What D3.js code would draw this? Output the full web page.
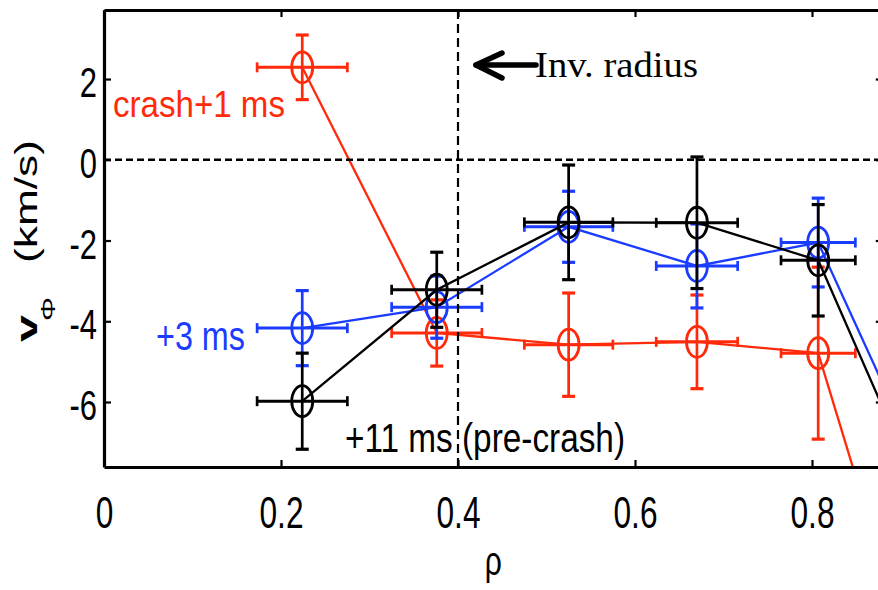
<!DOCTYPE html>
<html>
<head>
<meta charset="utf-8">
<script src="https://cdn.jsdelivr.net/npm/d3@7"></script>
<style>
  html, body { margin: 0; padding: 0; background: #fff; }
  svg { display: block; }
</style>
</head>
<body>
<svg id="chart" width="878" height="590"></svg>
<script>
// Toroidal rotation profiles v_phi(rho) around the sawtooth crash
const rho       = [0.224, 0.376, 0.525, 0.670, 0.807, 0.95];
const rhoErr    = [0.051, 0.051, 0.050, 0.046, 0.042, 0.05];

const vCrash1    = [2.29, -4.29, -4.58, -4.51, -4.79, -15.1];   // crash + 1 ms
const vCrash1Err = [0.80, 0.82, 1.28, 1.16, 2.13, 2.0];
const vCrash3    = [-4.17, -3.65, -1.66, -2.63, -2.05, -8.9];   // crash + 3 ms
const vCrash3Err = [0.93, 0.77, 0.88, 1.04, 1.10, 1.0];
const vPre       = [-5.98, -3.22, -1.55, -1.56, -2.49, -9.64];  // + 11 ms (pre-crash)
const vPreErr    = [1.19, 0.93, 1.42, 1.63, 1.38, 1.4];

const xTicks = [0, 0.2, 0.4, 0.6, 0.8];
const xTickLabels = ["0", "0.2", "0.4", "0.6", "0.8"];
const yTicks = [2, 0, -2, -4, -6];
const yTickLabels = ["2", "0", "-2", "-4", "-6"];

const invRadius = 0.4;

const RED = "#ff2a0a", BLUE = "#1a3cff", BLACK = "#000";

(function draw() {
  const svg = d3.select("#chart");
  const mLeft = 104, mRight = 882.8, mTop = 10, mBottom = 467;

  const x = d3.scaleLinear().domain([0, 0.88]).range([mLeft, mRight]);
  const y = d3.scaleLinear().domain([-7.61, 3.71]).range([mBottom, mTop]);

  svg.append("defs").append("clipPath").attr("id", "plotClip")
    .append("rect").attr("x", mLeft).attr("y", mTop)
    .attr("width", mRight - mLeft).attr("height", mBottom - mTop);

  const plot = svg.append("g").attr("clip-path", "url(#plotClip)");

  const series = [
    { v: vCrash1, e: vCrash1Err, color: RED },
    { v: vCrash3, e: vCrash3Err, color: BLUE },
    { v: vPre,    e: vPreErr,    color: BLACK }
  ];

  series.forEach(s => {
    const pts = rho.map((r, i) => ({ r, re: rhoErr[i], v: s.v[i], ve: s.e[i] }));
    const g = plot.append("g").attr("stroke", s.color).attr("fill", "none");

    // vertical error bars
    const capW = 6.5;
    pts.forEach(p => {
      const cx = x(p.r), y1 = y(p.v + p.ve), y2 = y(p.v - p.ve);
      g.append("line").attr("x1", cx).attr("x2", cx).attr("y1", y1).attr("y2", y2).attr("stroke-width", 2.7);
      g.append("line").attr("x1", cx - capW).attr("x2", cx + capW).attr("y1", y1).attr("y2", y1).attr("stroke-width", 3.2);
      g.append("line").attr("x1", cx - capW).attr("x2", cx + capW).attr("y1", y2).attr("y2", y2).attr("stroke-width", 3.2);
    });

    // horizontal error bars
    const capH = 5;
    pts.forEach(p => {
      const cy = y(p.v), x1 = x(p.r - p.re), x2 = x(p.r + p.re);
      g.append("line").attr("x1", x1).attr("x2", x2).attr("y1", cy).attr("y2", cy).attr("stroke-width", 3);
      g.append("line").attr("x1", x1).attr("x2", x1).attr("y1", cy - capH).attr("y2", cy + capH).attr("stroke-width", 2.7);
      g.append("line").attr("x1", x2).attr("x2", x2).attr("y1", cy - capH).attr("y2", cy + capH).attr("stroke-width", 2.7);
    });

    // connecting line
    g.append("path")
      .attr("d", d3.line().x(p => x(p.r)).y(p => y(p.v))(pts))
      .attr("stroke-width", 2.3);

    // circle markers
    g.selectAll("ellipse").data(pts).join("ellipse")
      .attr("cx", p => x(p.r)).attr("cy", p => y(p.v))
      .attr("rx", 10.5).attr("ry", 15.5)
      .attr("stroke-width", 2.8);
  });

  // zero line and inversion radius
  svg.append("line")
    .attr("x1", mLeft).attr("x2", mRight).attr("y1", y(0)).attr("y2", y(0))
    .attr("stroke", "#000").attr("stroke-width", 2.4).attr("stroke-dasharray", "7,4");
  svg.append("line")
    .attr("x1", x(invRadius)).attr("x2", x(invRadius)).attr("y1", mTop).attr("y2", mBottom)
    .attr("stroke", "#000").attr("stroke-width", 2.2).attr("stroke-dasharray", "9,5");

  // axes (ticks inside the box)
  const tickFont = "'Liberation Sans', Arial, Helvetica, sans-serif";
  const styleAxis = g => {
    g.select(".domain").attr("stroke-width", 3.2);
    g.selectAll(".tick line").attr("stroke-width", 2.2);
  };

  const xAxis = svg.append("g").attr("transform", `translate(0,${mBottom})`)
    .call(d3.axisBottom(x).tickValues(xTicks).tickSize(-7).tickSizeOuter(0)
      .tickFormat((d, i) => xTickLabels[i]))
    .call(styleAxis);
  xAxis.selectAll(".tick text")
    .attr("font-family", tickFont).attr("font-size", 44).attr("fill", "#000")
    .attr("y", 0).attr("dy", "0.36em").attr("text-anchor", "middle")
    .attr("transform", "translate(0,45) scale(0.72,1)");

  const yAxis = svg.append("g").attr("transform", `translate(${mLeft},0)`)
    .call(d3.axisLeft(y).tickValues(yTicks).tickSize(-7).tickSizeOuter(0)
      .tickFormat((d, i) => yTickLabels[i]))
    .call(styleAxis);
  yAxis.selectAll(".tick text")
    .attr("font-family", tickFont).attr("font-size", 43).attr("fill", "#000")
    .attr("x", 0).attr("dy", "0.36em").attr("text-anchor", "end")
    .attr("transform", "translate(-7,2) scale(0.72,1)");

  svg.append("g").attr("transform", `translate(0,${mTop})`)
    .call(d3.axisTop(x).tickValues(xTicks).tickSize(-7).tickSizeOuter(0).tickFormat(""))
    .call(styleAxis);
  svg.append("g").attr("transform", `translate(${mRight},0)`)
    .call(d3.axisRight(y).tickValues(yTicks).tickSize(-7).tickSizeOuter(0).tickFormat(""))
    .call(styleAxis);

  // axis titles
  svg.append("text").text("ρ")
    .attr("font-family", tickFont).attr("font-size", 40)
    .attr("text-anchor", "middle")
    .attr("transform", `translate(${(mLeft + mRight) / 2},575) scale(0.75,1)`);

  const yl = (txt, px, py, size, len, weight) => svg.append("text").text(txt)
    .attr("font-family", tickFont).attr("font-size", size)
    .attr("font-weight", weight || "normal")
    .attr("textLength", len).attr("lengthAdjust", "spacingAndGlyphs")
    .attr("transform", `translate(${px},${py}) rotate(-90)`);
  yl("v", 37, 342, 30, 27, "bold");
  yl("Φ", 55, 321, 21, 24);
  yl("(km/s)", 37, 263, 31, 123);

  // annotations
  const ann = (txt, px, py, size, len, color, family) => svg.append("text").text(txt)
    .attr("x", px).attr("y", py)
    .attr("font-family", family || tickFont).attr("font-size", size)
    .attr("fill", color)
    .attr("textLength", len).attr("lengthAdjust", "spacingAndGlyphs");
  ann("crash+1 ms", 113, 117, 37, 172, RED);
  ann("+3 ms", 156, 350, 40, 89, BLUE);
  ann("+11 ms (pre-crash)", 345, 452, 40, 280, BLACK);
  ann("Inv. radius", 535, 77, 35, 163, BLACK, "'Liberation Serif', 'Times New Roman', serif");

  // arrow pointing at the inversion radius
  const arrow = svg.append("g").attr("stroke", "#000").attr("stroke-width", 5.5)
    .attr("stroke-linecap", "round").attr("stroke-linejoin", "round").attr("fill", "none");
  arrow.append("line").attr("x1", 536).attr("x2", 476).attr("y1", 65).attr("y2", 65);
  arrow.append("polyline").attr("points", "502,53 476,65 502,78");
})();
</script>
</body>
</html>
